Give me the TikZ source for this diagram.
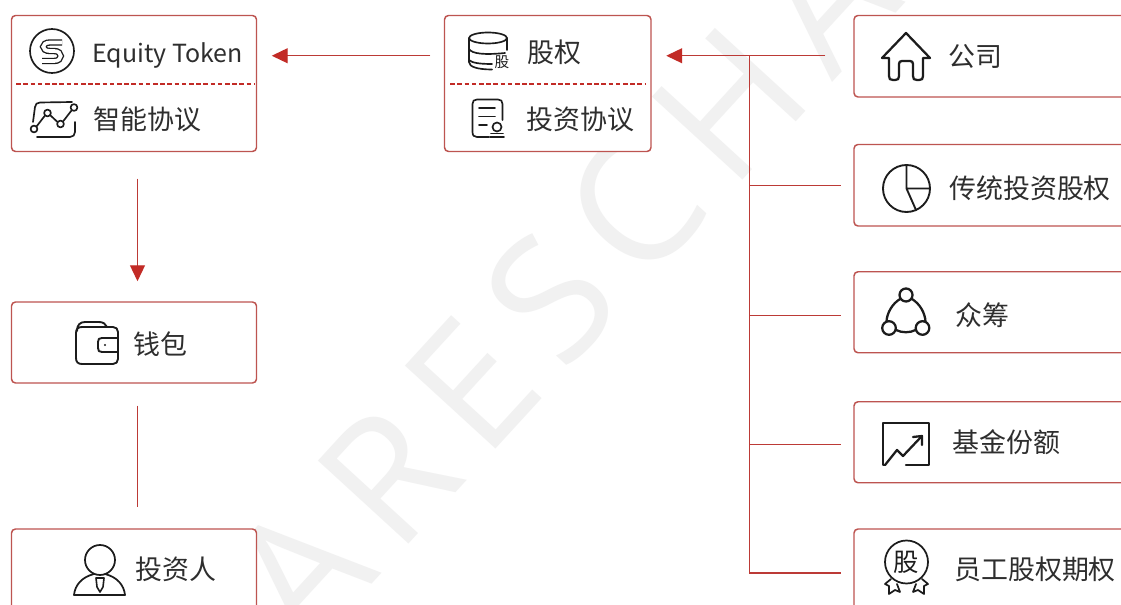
\documentclass[tikz,border=0pt]{standalone}
\usepackage{fontspec}
\setmainfont{Noto Sans CJK SC}
\newfontfamily\wmfont[LetterSpace=13]{Open Sans}
\usetikzlibrary{arrows.meta,calc}
\definecolor{edgeC}{HTML}{BD5450}
\definecolor{lineC}{HTML}{BC3A36}
\definecolor{tipC}{HTML}{C22B26}
\definecolor{ink}{HTML}{1C1C1C}
\definecolor{txt}{HTML}{2E2E2E}
\definecolor{wm}{HTML}{F1F1F1}
\tikzset{
 nodebox/.style={draw=edgeC,line width=1.1pt,fill=white,rounded corners=3pt,inner sep=0pt},
 sep/.style={draw=tipC,line width=1pt,dash pattern=on 3.4pt off 2pt},
 label/.style={anchor=west,inner sep=0pt,text=txt,font=\fontsize{20.2pt}{24pt}\selectfont},
 link/.style={draw=lineC,line width=1.1pt},
 arrowed/.style={link,-{Triangle[length=12pt,width=11.2pt,color=tipC]}},
 icon/.style={draw=ink,line width=1.25pt,line cap=round,line join=round},
 iconb/.style={draw=ink,line width=1.7pt,line cap=round,line join=round},
}
\newcommand{\bx}[5]{\node[nodebox,minimum width=#4*0.75pt,minimum height=#5*0.75pt] (#1) at (#2,#3) {};}
\begin{document}
\begin{tikzpicture}[x=0.75pt,y=-0.75pt]
\useasboundingbox (0,0) rectangle (1121,605);
\clip (0,0) rectangle (1121,605);
\fill[white] (0,0) rectangle (1121,605);
% watermark
\node[text=wm,inner sep=0pt,rotate=47.5,font=\wmfont\fontsize{129pt}{140pt}\selectfont] (mark) at (562,286) {ARESCHA};
% boxes
\bx{token}{134}{83.5}{245}{136}
\bx{equity}{547.75}{83.5}{206.5}{136}
\bx{wallet}{134}{342.5}{245}{81}
\bx{investor}{134}{574.5}{245}{91}
\bx{company}{994}{56.25}{280}{81.5}
\bx{trad}{994}{185.25}{280}{81.5}
\bx{crowd}{994}{312.25}{280}{81}
\bx{fund}{994}{442.25}{280}{81}
\bx{option}{994}{574.5}{280}{91}
\draw[sep] ($(token.west)+(5.5,0.5)$) -- ($(token.east)+(-2.5,0.5)$);
\draw[sep] ($(equity.west)+(6.5,0.5)$) -- ($(equity.east)+(-6,0.5)$);
% connectors
\coordinate (hub) at (749.5,55.75);
\draw[arrowed,shorten <=13.5*0.75pt,shorten >=14.5*0.75pt] ($(equity.west)+(0,-27.75)$) -- ($(token.east)+(0,-27.75)$);
\draw[arrowed,shorten <=28*0.75pt,shorten >=14.5*0.75pt] ($(company.west)+(0,-0.5)$) -- ($(equity.east)+(0,-27.75)$);
\draw[arrowed,shorten <=26.5*0.75pt,shorten >=20*0.75pt] ($(token.south)+(3.5,0)$) -- ($(wallet.north)+(3.5,0)$);
\draw[link,shorten <=22*0.75pt,shorten >=21*0.75pt] ($(wallet.south)+(3.5,0)$) -- ($(investor.north)+(3.5,0)$);
\draw[link,shorten >=12*0.75pt] ($(hub |- trad.west)+(0,0.5)$) -- ($(trad.west)+(0,0.5)$);
\draw[link,shorten >=12*0.75pt] ($(hub |- crowd.west)+(0,3.5)$) -- ($(crowd.west)+(0,3.5)$);
\draw[link,shorten >=12*0.75pt] ($(hub |- fund.west)+(0,2)$) -- ($(fund.west)+(0,2)$);
\draw[link,shorten >=12*0.75pt] (hub) |- ($(option.west)+(0,-1.5)$);
% labels
\node[label,font=\fontsize{18.7pt}{24pt}\selectfont] (t1) at (92,55) {Equity Token};
\node[label] (t2) at (93,119) {智能协议};
\node[label] (t3) at (527,52) {股权};
\node[label] (t4) at (526,119) {投资协议};
\node[label] (t5) at (948,56) {公司};
\node[label] (t6) at (949,188) {传统投资股权};
\node[label] (t7) at (955,315) {众筹};
\node[label] (t8) at (952,442) {基金份额};
\node[label] (t9) at (954,569) {员工股权期权};
\node[label] (t10) at (133,344) {钱包};
\node[label] (t11) at (135,569) {投资人};
% coin icon
\draw[icon] (52,51) circle (22);
\draw[draw=ink,double=white,line width=1pt,double distance=2.8pt] (62,42.5) -- (50,42.5) .. controls (41,42.5) and (41,51) .. (50,51) -- (54,51) .. controls (63,51) and (63,61) .. (54,61) -- (42,61);
% chart icon
\draw[icon] (33,122) -- (35,107) .. controls (35.5,104) and (37,102.5) .. (40,102.5) -- (72,102);
\draw[icon] (37,137) -- (70,137) .. controls (73,137) and (75,135) .. (75,132) -- (75,122);
\draw[icon] (36.5,126.5) -- (45,115.5) (50,115) -- (57.5,122) (63,121.5) -- (71.5,110.5);
\draw[icon] (34,129) circle (3.4) (47.5,113) circle (3.4) (60.5,124) circle (3.4) (74,107.5) circle (3.4);
% database icon
\draw[icon] (488,38) ellipse (19 and 5.5);
\draw[icon] (469,38) -- (469,62) .. controls (469,67) and (478,69.5) .. (492,69.5);
\draw[icon] (507,38) -- (507,50);
\draw[icon] (469,49) .. controls (472,54) and (485,55) .. (505,53);
\draw[icon] (469,60) .. controls (472,63) and (480,64) .. (492,64);
\node[inner sep=0pt,text=ink,font=\fontsize{11pt}{12pt}\selectfont] (dbmark) at (502,62) {股};
% contract icon
\draw[icon] (489,137) -- (477,137) .. controls (474,137) and (472.5,135.5) .. (472.5,132) -- (472.5,104) .. controls (472.5,101) and (474,99.5) .. (477,99.5) -- (498,99.5) .. controls (501,99.5) and (502.5,101) .. (502.5,104) -- (502.5,120);
\draw[icon] (479,108) -- (495,108) (479,116.5) -- (495,116.5) (479,125) -- (487,125);
\draw[icon] (497,127) circle (4.5);
\draw[icon] (490,137) -- (504,137) (491,133.5) -- (503,133.5);
% house icon
\draw[iconb] (882,58) -- (906,33) -- (930,58) -- (923,58) -- (923,76) .. controls (923,79) and (922,80) .. (919,80) -- (917,80) .. controls (914,80) and (913,79) .. (913,76) -- (913,64) .. controls (913,62) and (912,61) .. (910,61) -- (902,61) .. controls (900,61) and (899,62) .. (899,64) -- (899,76) .. controls (899,79) and (898,80) .. (895,80) -- (893,80) .. controls (890,80) and (889,79) .. (889,76) -- (889,58) -- cycle;
% pie icon
\draw[icon,line width=1.4pt] (906.5,188.5) circle (23.5);
\draw[icon,line width=1.4pt] (906.5,165) -- (906.5,188.5) -- (930,188.5) (906.5,188.5) -- (916,210);
% crowd icon
\draw[iconb] (906,295) circle (6.5) (889,328) circle (6.8) (922.5,328) circle (6.8);
\draw[iconb] (900,299) .. controls (892,304) and (887,313) .. (886.5,321.5);
\draw[iconb] (912,299) .. controls (920,304) and (925,313) .. (925.5,321.5);
\draw[iconb] (896,330) .. controls (902,333) and (910,333) .. (915.5,330);
% fund icon
\draw[iconb] (885,465) -- (883,465) -- (883,423) -- (929,423) -- (929,465) -- (906,465);
\draw[iconb] (885,465) -- (897,450) -- (903,456) -- (921,437);
\draw[iconb] (913,437) -- (922,436) -- (922,445);
% badge icon
\draw[icon,line width=1.3pt] (906.5,562) circle (21.5);
\node[inner sep=0pt,text=ink,font=\fontsize{19pt}{20pt}\selectfont] (badge) at (906.5,562) {股};
\draw[icon,line width=1.3pt] (891,579) -- (885,584) -- (889,586) -- (889,594) -- (895,590) -- (900,592) -- (897,584);
\draw[icon,line width=1.3pt] (922,579) -- (928,584) -- (924,586) -- (924,594) -- (918,590) -- (913,592) -- (916,584);
% wallet icon
\draw[icon,line width=1.4pt] (108,327) -- (82,327) .. controls (78,327) and (76,329) .. (76,333) -- (76,358) .. controls (76,362) and (78,364) .. (82,364) -- (113,364) .. controls (116,364) and (118,362) .. (118,359) -- (118,332) .. controls (118,329) and (116,327) .. (113,327) -- (108,327);
\draw[icon,line width=1.4pt] (77,331) .. controls (77,325) and (80,322) .. (85,322) -- (99,322) .. controls (103,322) and (106,324) .. (107,327);
\draw[icon,line width=1.4pt] (118,338) -- (102,338) .. controls (99,338) and (98,339) .. (98,342) -- (98,348) .. controls (98,351) and (99,352) .. (102,352) -- (118,352);
\fill[ink] (105,345) circle (1.2);
% person icon
\draw[icon,line width=1.3pt] (100,560) circle (15);
\draw[icon,line width=1.3pt] (74,595) -- (125,595);
\draw[icon,line width=1.3pt] (74,595) .. controls (75,585) and (82,577) .. (94,574);
\draw[icon,line width=1.3pt] (125,595) .. controls (124,585) and (117,577) .. (105,574);
\draw[icon,line width=1.2pt] (96,578) -- (104,578) -- (103,587) -- (100,592) -- (97,587) -- cycle;
\end{tikzpicture}
\end{document}
